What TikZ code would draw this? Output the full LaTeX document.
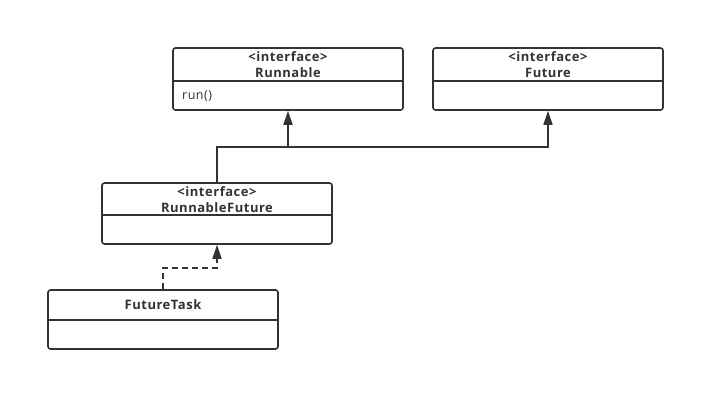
\documentclass[tikz,border=0pt]{standalone}
\usepackage{fontspec}
\setmainfont{Open Sans}[LetterSpace=4]
\usetikzlibrary{arrows.meta}
\definecolor{ink}{HTML}{333333}
\tikzset{
  umlbox/.style={draw=ink, line width=1.6pt, rounded corners=2.5pt, fill=white, inner sep=0pt},
  divider/.style={draw=ink, line width=1.4pt},
  title/.style={font=\fontsize{13}{16}\selectfont\bfseries, text=ink, inner sep=0pt, align=center},
  member/.style={font=\fontsize{12.5}{15}\selectfont, text=ink, inner sep=0pt, anchor=west},
  inh/.style={draw=ink, line width=1.6pt, -{Triangle[width=9pt,length=14pt]}},
  real/.style={inh, dash pattern=on 6pt off 4pt},
}
\begin{document}
\begin{tikzpicture}[x=1pt,y=-1pt]
\useasboundingbox (0,0) rectangle (725,412);
% Runnable
\node[umlbox, minimum width=230pt, minimum height=62pt] (run) at (288,79) {};
\draw[divider] (173,81) -- (403,81);
\node[title] (runT) at (288,65) {<interface>\\Runnable};
\node[member] (runM) at (182,96) {run()};
% Future
\node[umlbox, minimum width=230pt, minimum height=62pt] (fut) at (548,79) {};
\draw[divider] (433,81) -- (663,81);
\node[title] (futT) at (548,65) {<interface>\\Future};
% RunnableFuture
\node[umlbox, minimum width=230pt, minimum height=61pt] (rf) at (217,213.5) {};
\draw[divider] (102,215) -- (332,215);
\node[title] (rfT) at (217,199.5) {<interface>\\RunnableFuture};
% FutureTask
\node[umlbox, minimum width=230pt, minimum height=59pt] (ft) at (163,319.5) {};
\draw[divider] (48,320) -- (278,320);
\node[title] (ftT) at (163,305) {FutureTask};
% connectors
\coordinate (j1) at (288,147);
\coordinate (j3) at (548,147);
\coordinate (j2) at (217,268);
\draw[inh] (rf.north) |- (j1) -- (run.south);
\draw[inh] (j1) -- (j3) -- (fut.south);
\draw[real] (ft.north) |- (j2) -- (rf.south);
\end{tikzpicture}
\end{document}
